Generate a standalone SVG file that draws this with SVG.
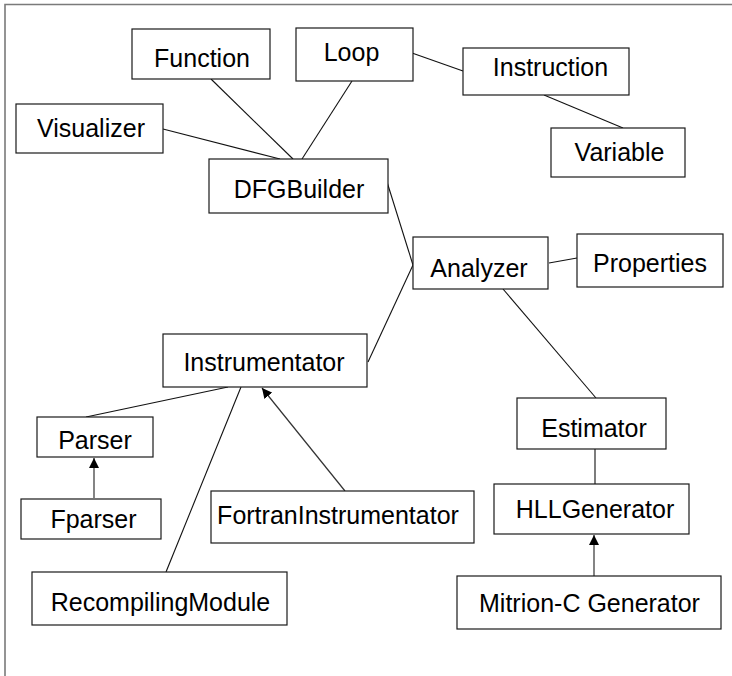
<svg xmlns="http://www.w3.org/2000/svg" width="732" height="676" viewBox="0 0 732 676">
  <style>
    .box { fill: #ffffff; stroke: #1a1a1a; stroke-width: 1.2; }
    .lbl { font-family: "Liberation Sans", Arial, sans-serif; font-size: 25px; fill: #000000; text-anchor: middle; }
    .link { stroke: #111111; stroke-width: 1.1; fill: none; }
    .inherit { stroke: #333333; stroke-width: 1.2; fill: none; marker-end: url(#tri); }
    .frame { stroke: #7a7a7a; stroke-width: 1.6; fill: none; }
  </style>
  <defs>
    <marker id="tri" viewBox="0 0 10 10" refX="10" refY="5" markerWidth="10" markerHeight="10" markerUnits="userSpaceOnUse" orient="auto">
      <path d="M0,0 L10,5 L0,10 Z" fill="#000000"/>
    </marker>
  </defs>
  <rect width="732" height="676" fill="#ffffff"/>
  <!-- frame: top and left edges -->
  <path class="frame" d="M5,676 V4.5 H732"/>

  <g id="connectors">
    <line class="link" x1="211" y1="79" x2="293" y2="159"/>
    <line class="link" x1="163" y1="129" x2="280" y2="159"/>
    <line class="link" x1="352" y1="81" x2="302" y2="159"/>
    <line class="link" x1="412" y1="53" x2="463" y2="71"/>
    <line class="link" x1="544" y1="95" x2="623" y2="128"/>
    <line class="link" x1="387" y1="182" x2="413" y2="265"/>
    <line class="link" x1="413" y1="265" x2="368" y2="362"/>
    <line class="link" x1="549" y1="263" x2="577" y2="258"/>
    <line class="link" x1="503" y1="289" x2="596" y2="398"/>
    <line class="link" x1="595" y1="449" x2="595" y2="484"/>
    <line class="link" x1="228" y1="387" x2="86" y2="417"/>
    <line class="link" x1="241" y1="387" x2="166" y2="572"/>
    <line class="inherit" x1="594" y1="576" x2="594" y2="535"/>
    <line class="inherit" x1="345" y1="491" x2="262" y2="388"/>
    <line class="inherit" x1="94" y1="498" x2="94" y2="458"/>
  </g>

  <g id="function"><rect class="box" x="132" y="29" width="138" height="50"/><text class="lbl" x="202" y="66.5">Function</text></g>
  <g id="loop"><rect class="box" x="296" y="28" width="117" height="53"/><text class="lbl" x="351.5" y="61">Loop</text></g>
  <g id="instruction"><rect class="box" x="463" y="48" width="166" height="47"/><text class="lbl" x="550.5" y="76">Instruction</text></g>
  <g id="visualizer"><rect class="box" x="16" y="104" width="147" height="49"/><text class="lbl" x="91" y="137">Visualizer</text></g>
  <g id="variable"><rect class="box" x="551" y="128" width="134" height="49"/><text class="lbl" x="619.5" y="161">Variable</text></g>
  <g id="dfgbuilder"><rect class="box" x="209" y="159" width="179" height="54"/><text class="lbl" x="299" y="198">DFGBuilder</text></g>
  <g id="analyzer"><rect class="box" x="413" y="237" width="135" height="52"/><text class="lbl" x="479" y="277">Analyzer</text></g>
  <g id="properties"><rect class="box" x="577" y="234" width="146" height="53"/><text class="lbl" x="650" y="272">Properties</text></g>
  <g id="instrumentator"><rect class="box" x="163" y="334" width="204" height="53"/><text class="lbl" x="264" y="371">Instrumentator</text></g>
  <g id="parser"><rect class="box" x="37" y="417" width="116" height="40"/><text class="lbl" x="95" y="449">Parser</text></g>
  <g id="estimator"><rect class="box" x="517" y="398" width="149" height="51"/><text class="lbl" x="594" y="437">Estimator</text></g>
  <g id="fparser"><rect class="box" x="21" y="499" width="140" height="40"/><text class="lbl" x="93.5" y="528">Fparser</text></g>
  <g id="fortraninstrumentator"><rect class="box" x="211" y="491" width="263" height="52"/><text class="lbl" x="338" y="524">FortranInstrumentator</text></g>
  <g id="hllgenerator"><rect class="box" x="494" y="484" width="195" height="50"/><text class="lbl" x="595" y="518">HLLGenerator</text></g>
  <g id="recompilingmodule"><rect class="box" x="32" y="572" width="255" height="53"/><text class="lbl" x="160.5" y="611">RecompilingModule</text></g>
  <g id="mitrion-c-generator"><rect class="box" x="457" y="576" width="264" height="53"/><text class="lbl" x="589.5" y="612">Mitrion-C Generator</text></g>
</svg>
